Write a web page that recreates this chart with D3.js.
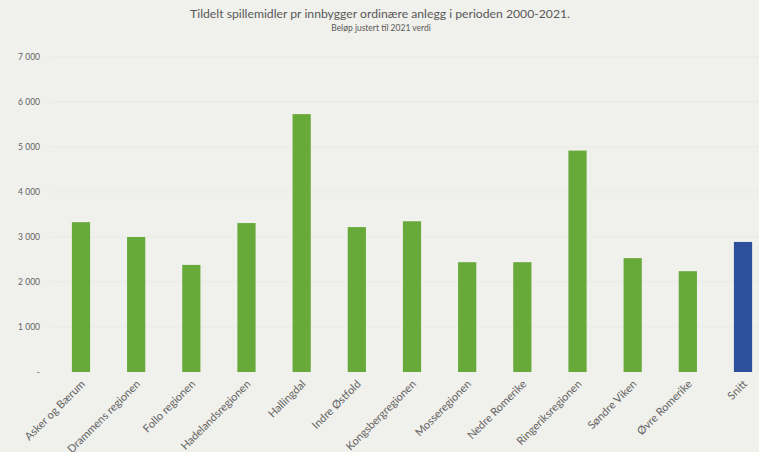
<!DOCTYPE html>
<html><head><meta charset="utf-8">
<script src="https://cdn.jsdelivr.net/npm/d3@7/dist/d3.min.js"></script>
<style>
html,body{margin:0;padding:0;background:#f0f0ec;}
svg{display:block;font-family:Lato,"Open Sans",sans-serif;}
</style></head>
<body>
<svg id="chart" width="759" height="452"></svg>
<script>
const categories = ["Asker og Bærum","Drammens regionen","Follo regionen","Hadelandsregionen","Hallingdal","Indre Østfold","Kongsbergregionen","Mosseregionen","Nedre Romerike","Ringeriksregionen","Søndre Viken","Øvre Romerike","Snitt"];
const values = [3330,3000,2380,3310,5730,3220,3350,2440,2440,4920,2530,2240,2890];
const yTicks = [0,1000,2000,3000,4000,5000,6000,7000];
const title = "Tildelt spillemidler pr innbygger ordinære anlegg i perioden 2000-2021.";
const subtitle = "Beløp justert til 2021 verdi";

const svg = d3.select("#chart");
const W = 759, H = 452;
const x = d3.scaleBand().domain(categories).range([53.4, 770.6]).paddingInner(0.67).paddingOuter(0.335);
const y = d3.scaleLinear().domain([0,7000]).range([372,57]);

svg.append("rect").attr("width",W).attr("height",H).attr("fill","#f0f0ec");

svg.append("text").attr("x",380).attr("y",18).attr("text-anchor","middle")
  .attr("font-size",12.2).attr("fill","#595959").text(title);
svg.append("text").attr("x",381).attr("y",31).attr("text-anchor","middle")
  .attr("font-size",8.5).attr("fill","#595959").text(subtitle);

// gridlines
svg.append("g").selectAll("line").data(yTicks.slice(1)).join("line")
  .attr("x1",50).attr("x2",759).attr("y1",d=>y(d)).attr("y2",d=>y(d))
  .attr("stroke","#e9e9e5").attr("stroke-width",1);

const fmt = d => d===0 ? "-" : d3.format(",")(d).replace(/,/g," ");
const yAxis = d3.axisLeft(y).tickValues(yTicks).tickFormat(fmt).tickSize(0).tickPadding(0);
const gy = svg.append("g").attr("transform","translate(40,0)").call(yAxis);
gy.select(".domain").remove();
gy.selectAll("text").attr("font-size",8.5).attr("fill","#636363").attr("font-family","Lato,sans-serif");

svg.append("g").selectAll("rect").data(categories).join("rect")
  .attr("x",d=>x(d)).attr("width",x.bandwidth())
  .attr("y",(d,i)=>y(values[i])).attr("height",(d,i)=>y(0)-y(values[i]))
  .attr("fill",(d,i)=> d==="Snitt" ? "#2c509c" : "#67aa3a");

const xAxis = d3.axisBottom(x).tickSize(0).tickPadding(0);
const gx = svg.append("g").attr("transform","translate(2,382)").call(xAxis);
gx.select(".domain").remove();
gx.selectAll("text").attr("font-size",11).attr("fill","#636363").attr("font-family","Lato,sans-serif")
  .attr("text-anchor","end").attr("dy","0.35em").attr("transform","rotate(-45)");
</script>
</body></html>
